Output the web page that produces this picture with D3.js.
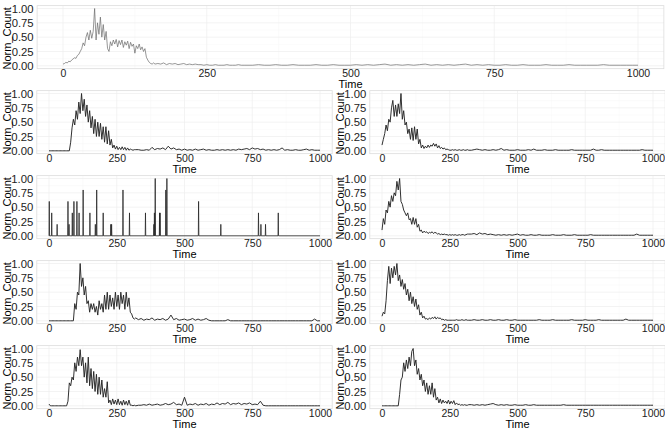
<!DOCTYPE html>
<html><head><meta charset="utf-8">
<script src="https://cdn.jsdelivr.net/npm/d3@7"></script>
<style>
body{margin:0;background:#fff}
svg{display:block}
text{font-family:"Liberation Sans",Arial,Helvetica,sans-serif}
</style>
</head><body>
<svg id="c" width="665" height="428"></svg>
<script>
// ---- tick labels / axis titles ----
const timeTicks = [0, 250, 500, 750, 1000];
const timeMinor = [125, 375, 625, 875];
const countTicks = [0, 0.25, 0.5, 0.75, 1];
const countMinor = [0.125, 0.375, 0.625, 0.875];
const xTitle = "Time";
const yTitle = "Norm_Count";

// ---- time grids ----
const tHead = [
  0,5,10,15,20,25,30,35,40,45,50,55,60,
  65,70,75,80,85,90,95,100,105,110,115,120,125,
  130,135,140,145,150,155,160,165,170,175,180,185,190,
  195,200,205,210,215,220,225,230,235,240,245,250,255,
  260,265,270,275,280,285,290,295,300,305,310,315,320
];
const tTail = [
  330,340,350,360,370,380,390,400,410,420,430,440,450,460,470,480,490,
  500,510,520,530,540,550,560,570,580,590,600,610,620,630,640,650,660,
  670,680,690,700,710,720,730,740,750,760,770,780,790,800,810,820,830,
  840,850,860,870,880,890,900,910,920,930,940,950,960,970,980,990,1000
];
const tTopHead = [
  0,2.5,5,7.5,10,12.5,15,17.5,20,22.5,25,27.5,30,
  32.5,35,37.5,40,42.5,45,47.5,50,52.5,55,57.5,60,62.5,
  65,67.5,70,72.5,75,77.5,80,82.5,85,87.5,90,92.5,95,
  97.5,100,102.5,105,107.5,110,112.5,115,117.5,120,122.5,125,127.5,
  130,132.5,135,137.5,140,142.5,145,147.5,150,152.5,155,157.5,160,
  165,170,175,180,185,190,195,200,205,210,215,220,225,230,235,240,
  245,250,255,260,265,270,275,280,285,290,295,300,305,310,315,320
];

// ---- series values ----
const s0 = [
  0.03,0.04,0.06,0.05,0.08,0.07,0.1,0.12,0.14,0.13,0.18,0.2,0.25,
  0.3,0.4,0.35,0.5,0.58,0.45,0.62,0.48,0.6,1.0,0.45,0.75,0.55,
  0.85,0.5,0.72,0.45,0.6,0.3,0.25,0.42,0.35,0.45,0.38,0.46,0.33,
  0.44,0.37,0.45,0.32,0.42,0.36,0.43,0.3,0.41,0.34,0.38,0.22,0.35,
  0.3,0.38,0.28,0.33,0.25,0.3,0.15,0.1,0.06,0.04,0.03,0.05,0.03,
  0.04,0.03,0.05,0.02,0.04,0.03,0.04,0.02,0.03,0.04,0.02,0.03,0.02,0.03,0.02,0.02,
  0.01,0.02,0.01,0.01,0.02,0.01,0.01,0.01,0.02,0.01,0.01,0.01,0.02,0.01,0.01,0.01,
  0.01,0.02,0.01,0.01,0.02,0.01,0.01,0.02,0.01,0.01,0.01,0.02,0.01,0.01,0.02,0.01,0.01,
  0.01,0.02,0.01,0.02,0.01,0.02,0.03,0.01,0.02,0.01,0.02,0.01,0.02,0.03,0.01,0.02,0.01,
  0.02,0.01,0.02,0.03,0.01,0.02,0.01,0.02,0.01,0.01,0.02,0.01,0.01,0.02,0.01,0.01,0.01,
  0.02,0.01,0.01,0.01,0.02,0.01,0.01,0.01,0.01,0.01,0.02,0.01,0.01,0.01,0.01,0.01,0.01
];
const s1 = [
  0,0,0,0,0,0,0,0,0,0,0,0,0,
  0,0,0,0.15,0.4,0.55,0.45,0.7,0.55,0.85,0.65,1.0,0.7,
  0.9,0.6,0.8,0.5,0.7,0.4,0.6,0.3,0.55,0.25,0.5,0.25,0.48,
  0.2,0.42,0.15,0.42,0.12,0.35,0.1,0.2,0.05,0.1,0.03,0.08,0.02,
  0.06,0.02,0.07,0.02,0.06,0.01,0.05,0.01,0.03,0.02,0.01,0.02,0.02,
  0.02,0.01,0.01,0.02,0.01,0.06,0.02,0.04,0.03,0.05,0.02,0.08,0.03,0.05,0.02,0.03,0.01,
  0.03,0.01,0.02,0.01,0.03,0.01,0.02,0.03,0.01,0.02,0.01,0.01,0.02,0.01,0.02,0.01,0.02,
  0.01,0.02,0.01,0.03,0.02,0.03,0.04,0.02,0.05,0.03,0.04,0.02,0.03,0.01,0.02,0.01,0.02,
  0.01,0.02,0.05,0.01,0.02,0.01,0.01,0.02,0.01,0.01,0.02,0.03,0.01,0.02,0.01,0.01,0.01
];
const s2 = [
  0.1,0.2,0.3,0.45,0.35,0.55,0.5,0.75,0.88,0.6,0.8,0.6,0.82,
  0.65,1.0,0.55,0.7,0.45,0.5,0.3,0.38,0.2,0.4,0.18,0.42,0.2,
  0.38,0.12,0.2,0.05,0.1,0.04,0.08,0.05,0.1,0.06,0.1,0.08,0.13,
  0.08,0.12,0.05,0.09,0.04,0.06,0.03,0.05,0.02,0.03,0.02,0.01,0.01,
  0.02,0.01,0.02,0.01,0.01,0.02,0.01,0.01,0.02,0.01,0.01,0.02,0.01,
  0.01,0.02,0.03,0.02,0.01,0.02,0.01,0.01,0.02,0.01,0.02,0.04,0.01,0.02,0.01,0.01,0.01,
  0.02,0.01,0.01,0.01,0.02,0.01,0.03,0.01,0.01,0.01,0.02,0.01,0.01,0.01,0.02,0.01,0.01,
  0.01,0.01,0.01,0.02,0.01,0.01,0.01,0.01,0.01,0.01,0.01,0.03,0.01,0.01,0.02,0.01,0.01,
  0.01,0.01,0.01,0.01,0.01,0.01,0.01,0.01,0.01,0.01,0.01,0.01,0.02,0.01,0.01,0.01,0.01
];
// sparse series: isolated counts
const spikeT = [1,10,30,70,74,86,92,103,111,126,151,171,176,200,228,231,273,297,356,387,389,392,408,410,431,435,552,634,773,782,799,846];
const spikeV = [0.6,0.4,0.2,0.6,0.2,0.4,0.6,0.6,0.4,0.8,0.4,0.2,0.8,0.4,0.2,0.2,0.8,0.4,0.4,0.2,0.4,1.0,0.4,0.4,0.8,1.0,0.6,0.2,0.4,0.2,0.2,0.4];
const s4 = [
  0.1,0.3,0.2,0.45,0.4,0.6,0.5,0.7,0.6,0.75,0.7,0.95,0.8,
  1.0,0.6,0.55,0.45,0.4,0.35,0.4,0.28,0.3,0.2,0.32,0.2,0.3,
  0.15,0.2,0.08,0.1,0.05,0.08,0.06,0.07,0.04,0.06,0.05,0.07,0.04,
  0.06,0.05,0.03,0.04,0.02,0.03,0.02,0.03,0.02,0.02,0.01,0.02,0.01,
  0.02,0.01,0.02,0.01,0.01,0.02,0.01,0.02,0.02,0.01,0.02,0.03,0.03,
  0.03,0.04,0.02,0.05,0.03,0.04,0.02,0.03,0.02,0.01,0.02,0.01,0.02,0.01,0.02,0.01,0.02,
  0.03,0.01,0.02,0.01,0.01,0.02,0.01,0.01,0.02,0.01,0.01,0.01,0.01,0.02,0.01,0.01,0.01,
  0.02,0.01,0.01,0.01,0.02,0.01,0.01,0.01,0.01,0.01,0.02,0.01,0.01,0.01,0.01,0.01,0.01,
  0.01,0.01,0.01,0.01,0.01,0.01,0.01,0.01,0.01,0.01,0.03,0.01,0.01,0.01,0.01,0.01,0.01
];
const s5 = [
  0,0,0,0,0,0,0,0,0,0,0,0,0,
  0,0,0,0,0,0,0.3,0.2,0.5,0.45,1.0,0.6,0.75,
  0.45,0.6,0.3,0.35,0.15,0.3,0.2,0.3,0.15,0.25,0.1,0.35,0.2,
  0.3,0.15,0.45,0.2,0.5,0.2,0.45,0.25,0.4,0.2,0.5,0.25,0.45,
  0.2,0.5,0.3,0.45,0.2,0.5,0.25,0.4,0.15,0.12,0.05,0.03,0.05,
  0.02,0.04,0.01,0.03,0.02,0.05,0.01,0.03,0.02,0.04,0.01,0.03,0.1,0.02,0.04,0.01,0.02,
  0.03,0.01,0.02,0.04,0.01,0.03,0.01,0.02,0.04,0.01,0,0,0,0,0,0,0.02,
  0,0,0,0,0,0,0,0,0,0,0,0,0,0,0,0,0,
  0,0,0,0,0,0,0,0,0,0,0,0,0,0,0.03,0,0
];
const s6 = [
  0.08,0.15,0.12,0.35,0.7,0.95,0.65,0.92,0.75,0.95,0.8,1.0,0.7,
  0.8,0.6,0.72,0.55,0.65,0.45,0.55,0.35,0.5,0.3,0.42,0.25,0.38,
  0.2,0.28,0.1,0.15,0.05,0.08,0.03,0.04,0.02,0.05,0.03,0.06,0.04,
  0.07,0.03,0.06,0.04,0.05,0.02,0.03,0.01,0.02,0.01,0.01,0.01,0.01,
  0.01,0.01,0.01,0.02,0.01,0.01,0.01,0.02,0.01,0.01,0.02,0.01,0.01,
  0.01,0.02,0.01,0.01,0.02,0.01,0.01,0.02,0.01,0.01,0.02,0.01,0.01,0.02,0.01,0.01,0.02,
  0.01,0.01,0.01,0.01,0.01,0.01,0.01,0.01,0.02,0.01,0.01,0.01,0.01,0.02,0.01,0.01,0.01,
  0.01,0.01,0.01,0.02,0.01,0.01,0.01,0.01,0.02,0.01,0.01,0.01,0.01,0.02,0.01,0.01,0.01,
  0.01,0.01,0.01,0.01,0.01,0.01,0.03,0.01,0.01,0.01,0.01,0.01,0.01,0.01,0.01,0.01,0.01
];
const s7 = [
  0.03,0,0,0,0,0,0,0,0,0,0,0,0,
  0,0.08,0.4,0.35,0.5,0.45,0.75,0.6,0.85,0.7,0.98,0.7,0.85,
  0.5,0.75,0.4,0.85,0.35,0.65,0.3,0.6,0.25,0.55,0.2,0.5,0.2,
  0.45,0.15,0.3,0.15,0.42,0.05,0.1,0.02,0.12,0.03,0.1,0.02,0.12,
  0.02,0.08,0.01,0.1,0.02,0.08,0.01,0.1,0.01,0.01,0,0.01,0,
  0.01,0.01,0.02,0.01,0.03,0.01,0.02,0.03,0.01,0.02,0.04,0.02,0.03,0.06,0.02,0.03,0.01,
  0.15,0.01,0.03,0.02,0.04,0.01,0.03,0.02,0.04,0.01,0.03,0.02,0.05,0.02,0.04,0.03,0.06,
  0.02,0.04,0.03,0.05,0.02,0.04,0.03,0.05,0.02,0.03,0.02,0.08,0.01,0,0,0,0,
  0,0,0,0,0,0,0,0,0,0,0,0,0,0,0,0,0
];
const s8 = [
  0,0,0,0,0,0,0,0,0,0,0,0,0,
  0.2,0.45,0.5,0.75,0.6,0.8,0.65,0.85,0.7,0.95,1.0,0.7,0.8,
  0.55,0.65,0.45,0.55,0.35,0.45,0.25,0.4,0.2,0.35,0.2,0.4,0.15,
  0.3,0.1,0.15,0.05,0.12,0.04,0.1,0.05,0.08,0.04,0.1,0.03,0.08,
  0.04,0.09,0.02,0.05,0.02,0.03,0.01,0.02,0.01,0.02,0.01,0.01,0.02,
  0.02,0.01,0.02,0.01,0.02,0.01,0.02,0.03,0.04,0.02,0.01,0.02,0.01,0.02,0.01,0.01,0.02,
  0.01,0.01,0.01,0.02,0.01,0.01,0.02,0.01,0.01,0.01,0.01,0.01,0.01,0.01,0.01,0.01,0.01,
  0.02,0.01,0.01,0.01,0.01,0.01,0.01,0.01,0.01,0.01,0.01,0.01,0.01,0.01,0.01,0.01,0.01,
  0.01,0.01,0.01,0.01,0.01,0.01,0.01,0.01,0.01,0.01,0.01,0.01,0.01,0.01,0.01,0.01,0.01
];

// build point lists
const T = tHead.concat(tTail);
const T0 = tTopHead.concat(tTail);
const dense = (ts, s) => d3.zip(ts, s);
function spikeSeries(ts, vs) {
  const pts = [[0, 0]];
  ts.forEach((t, i) => { pts.push([t - 1, 0], [t, vs[i]], [t + 1, 0]); });
  pts.push([1000, 0]);
  return pts;
}

// ---- layout (pixels) ----
const rowStep = 85, yZero = 65.8, yOne = 8.5;
const panels = [
  {pts: dense(T0, s0), xr: [63, 638], row: 0, stroke: "#6a6a6a", sw: 0.7},
  {pts: dense(T, s1), xr: [49, 320], row: 1},
  {pts: dense(T, s2), xr: [382, 653], row: 1},
  {pts: spikeSeries(spikeT, spikeV), xr: [49, 320], row: 2, sw: 0.8},
  {pts: dense(T, s4), xr: [382, 653], row: 2},
  {pts: dense(T, s5), xr: [49, 320], row: 3},
  {pts: dense(T, s6), xr: [382, 653], row: 3},
  {pts: dense(T, s7), xr: [49, 320], row: 4},
  {pts: dense(T, s8), xr: [382, 653], row: 4}
];

const svg = d3.select("#c");
svg.append("rect").attr("width", 665).attr("height", 428).attr("fill", "#fff");

panels.forEach(p => {
  const x = d3.scaleLinear().domain([0, 1000]).range(p.xr);
  const y = d3.scaleLinear().domain([0, 1]).range([yZero + rowStep * p.row, yOne + rowStep * p.row]);
  const px0 = x(-45), px1 = x(1045), py0 = y(1.05), py1 = y(-0.05);
  const g = svg.append("g");

  // minor grid
  g.selectAll(".mx").data(timeMinor).join("line")
    .attr("x1", d => x(d)).attr("x2", d => x(d)).attr("y1", py0).attr("y2", py1)
    .attr("stroke", "#f6f6f6").attr("stroke-width", 0.5);
  g.selectAll(".my").data(countMinor).join("line")
    .attr("x1", px0).attr("x2", px1).attr("y1", d => y(d)).attr("y2", d => y(d))
    .attr("stroke", "#f6f6f6").attr("stroke-width", 0.5);
  // major grid
  g.selectAll(".gx").data(timeTicks).join("line")
    .attr("x1", d => x(d)).attr("x2", d => x(d)).attr("y1", py0).attr("y2", py1)
    .attr("stroke", "#eeeeee").attr("stroke-width", 0.7);
  g.selectAll(".gy").data(countTicks).join("line")
    .attr("x1", px0).attr("x2", px1).attr("y1", d => y(d)).attr("y2", d => y(d))
    .attr("stroke", "#eeeeee").attr("stroke-width", 0.7);

  // data line
  g.append("path").datum(p.pts)
    .attr("d", d3.line().x(d => x(d[0])).y(d => y(d[1])))
    .attr("fill", "none").attr("stroke", p.stroke || "#262626")
    .attr("stroke-width", p.sw || 0.95).attr("stroke-linejoin", "round");

  // border
  g.append("rect").attr("x", px0).attr("y", py0)
    .attr("width", px1 - px0).attr("height", py1 - py0)
    .attr("fill", "none").attr("stroke", "#dcdcdc").attr("stroke-width", 0.8);

  // x axis labels
  const ax = g.append("g").attr("transform", `translate(0,${y(0)})`)
    .call(d3.axisBottom(x).tickValues(timeTicks).tickSize(0).tickPadding(4).tickFormat(d3.format("d")));
  ax.select(".domain").remove();
  ax.selectAll("text").attr("font-size", 10.5).attr("fill", "#222")
    .style("font-family", '"Liberation Sans",Arial,sans-serif');

  // y axis labels
  const ay = g.append("g").attr("transform", `translate(${px0},0)`)
    .call(d3.axisLeft(y).tickValues(countTicks).tickSize(0).tickPadding(3.5).tickFormat(d3.format(".2f")));
  ay.select(".domain").remove();
  ay.selectAll("text").attr("font-size", 11.3).attr("fill", "#222")
    .style("font-family", '"Liberation Sans",Arial,sans-serif');

  // titles
  g.append("text").attr("x", (px0 + px1) / 2).attr("y", y(0) + 22)
    .attr("text-anchor", "middle").attr("font-size", 11).attr("fill", "#000").text(xTitle);
  g.append("text")
    .attr("transform", `translate(${px0 - 29.5},${(py0 + py1) / 2 + 1.2}) rotate(-90)`)
    .attr("text-anchor", "middle").attr("dy", "0.35em")
    .attr("font-size", 11).attr("fill", "#000").text(yTitle);
});
</script>
</body></html>
